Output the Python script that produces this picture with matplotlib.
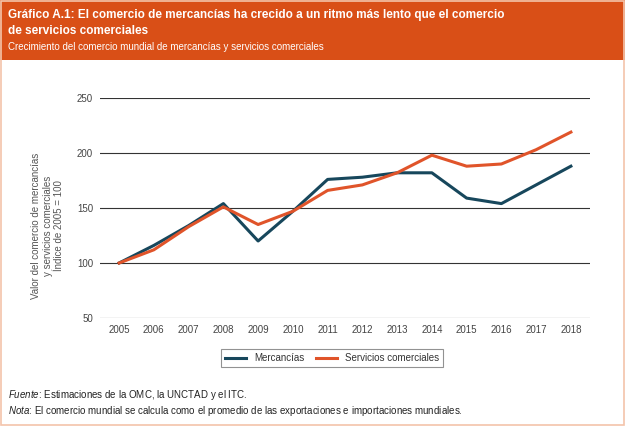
import matplotlib.pyplot as plt
from matplotlib.patches import Rectangle

plt.rcParams['font.family'] = ['Liberation Sans', 'DejaVu Sans']
plt.rcParams['mathtext.fontset'] = 'custom'
plt.rcParams['mathtext.it'] = 'Liberation Sans:italic'
plt.rcParams['mathtext.rm'] = 'Liberation Sans'

# Data (index 2005 = 100)
years = [2005, 2006, 2007, 2008, 2009, 2010, 2011, 2012, 2013, 2014, 2015, 2016, 2017, 2018]
mercancias = [100, 116, 134, 154, 120, 147, 176, 178, 182, 182, 159, 154, 171, 188]
servicios = [100, 112, 133, 151, 135, 147, 166, 171, 182, 198, 188, 190, 203, 219]
y_ticks = [50, 100, 150, 200, 250]

blue = '#17475c'
orange = '#e0542a'
header = '#d94f17'

fig = plt.figure(figsize=(6.25, 4.26), dpi=100)
fig.patch.set_facecolor('white')

# Orange header band and thin frame
fig.patches.append(Rectangle((0, 1 - 60 / 426), 1, 60 / 426, transform=fig.transFigure,
                             facecolor=header, edgecolor='none', zorder=0))
fig.patches.append(Rectangle((0.002, 0.002), 0.996, 0.996, transform=fig.transFigure,
                             facecolor='none', edgecolor='#f4c4aa', lw=1.2, zorder=1))

fig.text(0.013, 1 - 15 / 426,
         'Gráfico A.1: El comercio de mercancías ha crecido a un ritmo más lento que el comercio',
         color='white', fontsize=8.5, fontweight='bold', va='center')
fig.text(0.013, 1 - 31 / 426, 'de servicios comerciales',
         color='white', fontsize=8.5, fontweight='bold', va='center')
fig.text(0.013, 1 - 47 / 426,
         'Crecimiento del comercio mundial de mercancías y servicios comerciales',
         color='white', fontsize=7.0, va='center')

ax = fig.add_axes([100 / 625, 1 - 318 / 426, 490 / 625, 220 / 426])
ax.plot(years, mercancias, color=blue, lw=2.2, label='Mercancías', zorder=3)
ax.plot(years, servicios, color=orange, lw=2.2, label='Servicios comerciales', zorder=3)

ax.set_xlim(2004.45, 2018.55)
ax.set_ylim(50, 250)
ax.set_yticks(y_ticks)
ax.set_xticks(years)
ax.grid(axis='y', color='#333333', lw=0.8)
ax.set_axisbelow(True)
for s in ax.spines.values():
    s.set_visible(False)
ax.tick_params(length=0, labelsize=7, labelcolor='#444444', pad=5)

ax.set_ylabel('Valor del comercio de mercancías\ny servicios comerciales\nÍndice de 2005 = 100',
              fontsize=7, color='#555555', linespacing=1.15)
ax.yaxis.set_label_coords(-0.074, 0.418)

leg = ax.legend(loc='center', bbox_to_anchor=(332 / 625, 1 - 358 / 426),
                bbox_transform=fig.transFigure, ncol=2, fontsize=7,
                frameon=True, fancybox=False, handlelength=2.2,
                columnspacing=1.2, borderpad=0.4)
leg.get_frame().set_edgecolor('#777777')
leg.get_frame().set_linewidth(0.8)
for t in leg.get_texts():
    t.set_color('#333333')

fig.text(0.013, 1 - 395 / 426, r'$\it{Fuente}$' + ': Estimaciones de la OMC, la UNCTAD y el ITC.',
         fontsize=7.0, color='#222222', va='center')
fig.text(0.013, 1 - 411 / 426,
         r'$\it{Nota}$' + ': El comercio mundial se calcula como el promedio de las exportaciones e importaciones mundiales.',
         fontsize=7.0, color='#222222', va='center')

fig.savefig('out.png', dpi=100)
